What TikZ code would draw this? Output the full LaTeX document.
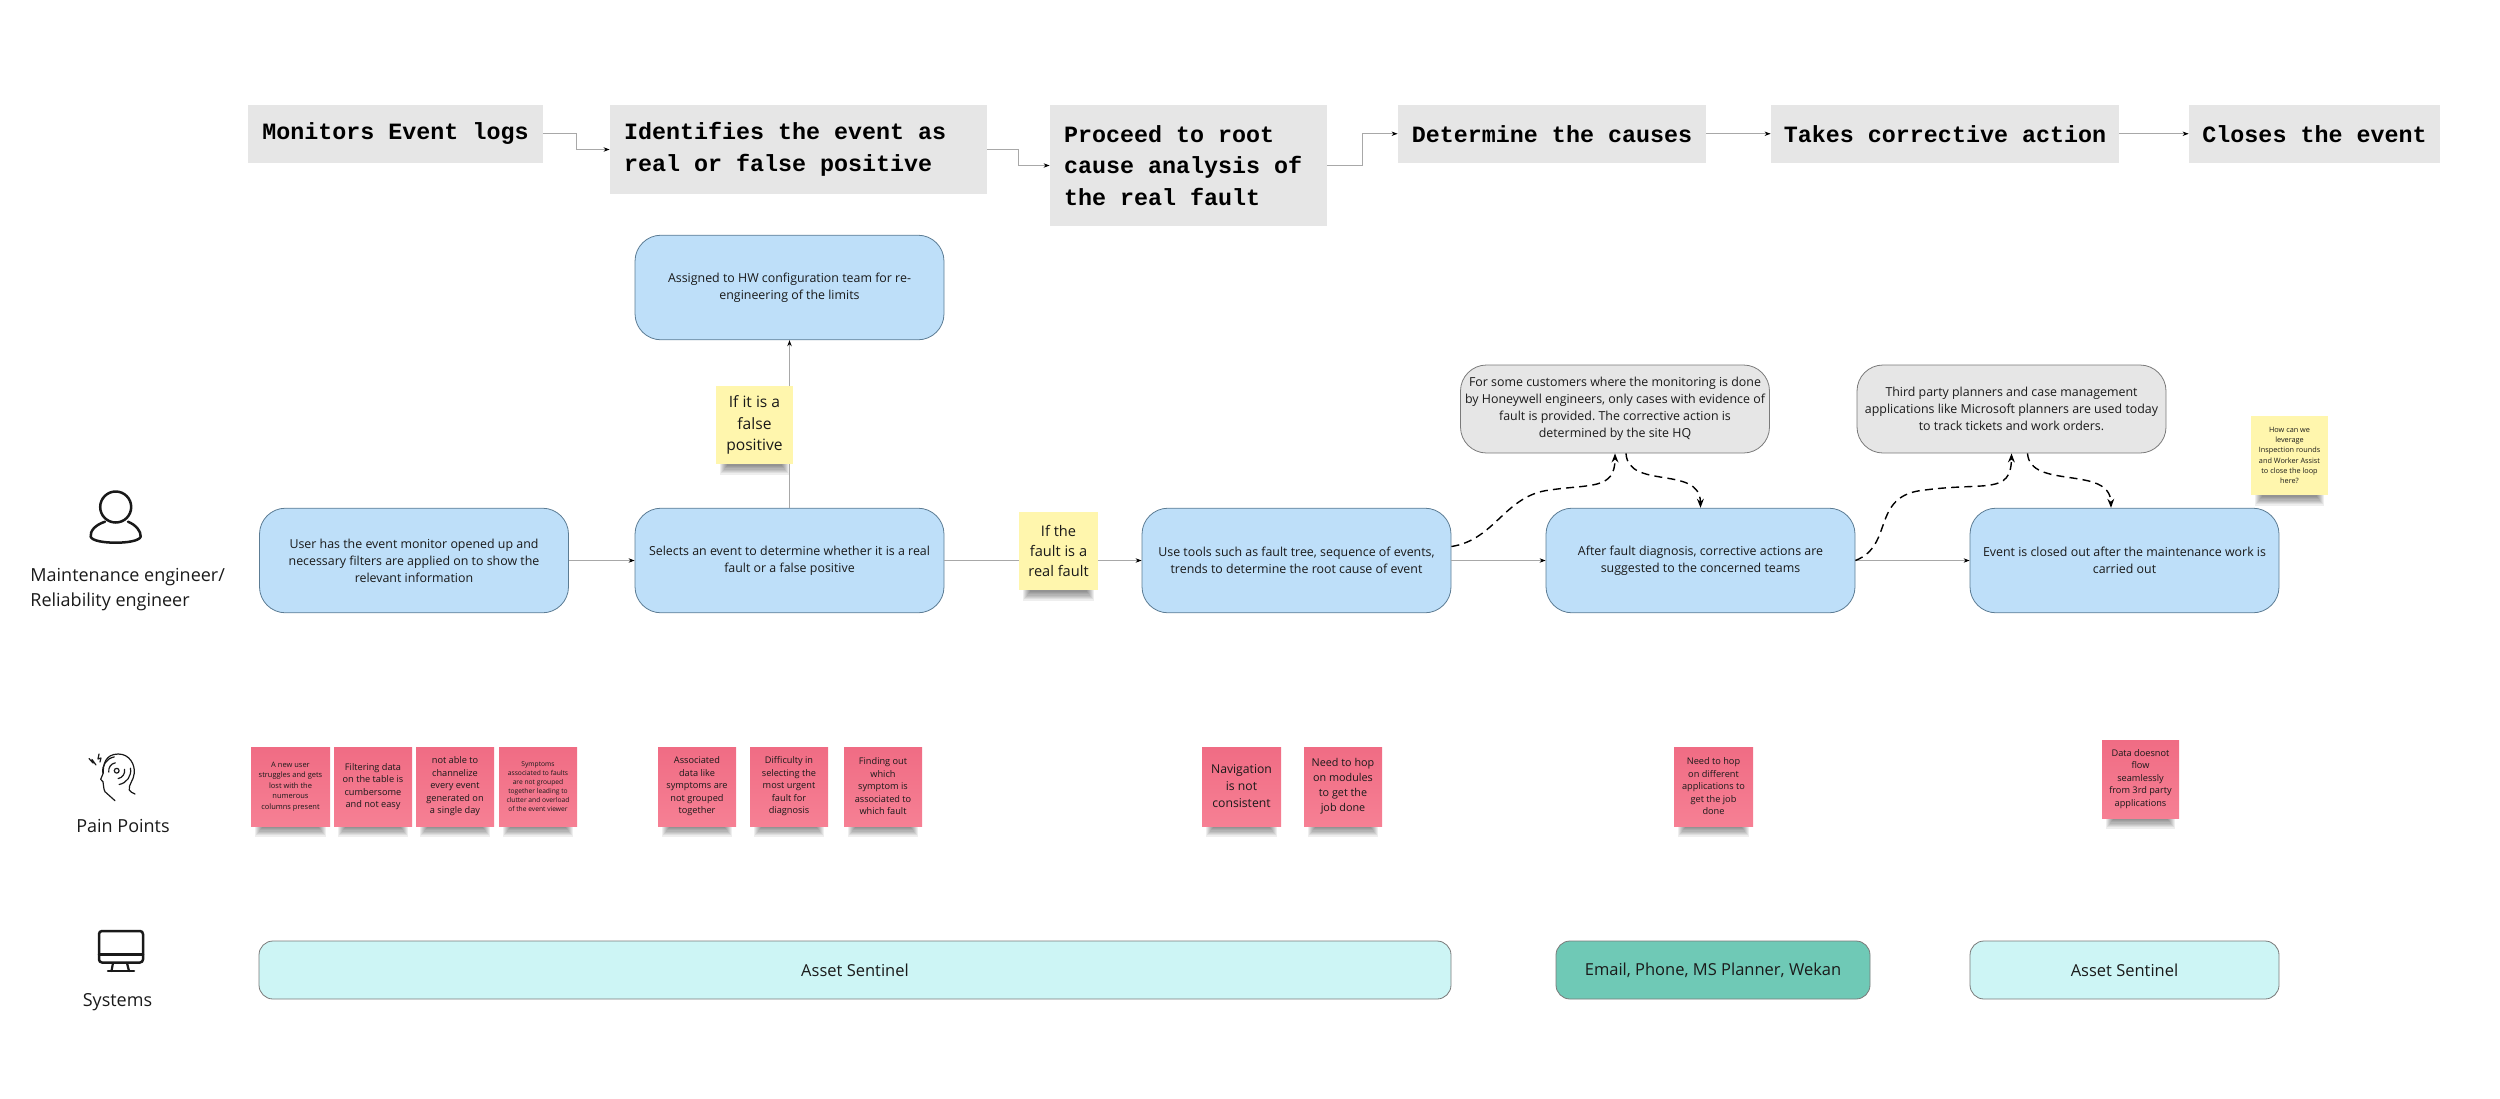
\documentclass[tikz,border=0pt]{standalone}
\usepackage{fontspec}
\setmainfont{Open Sans}
\newfontfamily\monob{Liberation Mono}[BoldFont={Liberation Mono Bold}]
\usetikzlibrary{arrows.meta,calc,positioning}
\frenchspacing
\definecolor{topgrey}{HTML}{E6E6E6}
\definecolor{blueF}{HTML}{BEDFF9}
\definecolor{blueD}{HTML}{5C7C94}
\definecolor{greyD}{HTML}{7A7A7A}
\definecolor{aquaF}{HTML}{CDF5F5}
\definecolor{tealF}{HTML}{6FC9B6}
\definecolor{inkT}{HTML}{1A1A1A}
\definecolor{pinkT}{HTML}{F06C84}
\definecolor{pinkB}{HTML}{F68094}
\definecolor{yelF}{HTML}{FFF6AD}
\definecolor{lineC}{HTML}{A8A8A8}
\newcommand{\widespace}{\spaceskip=7.002pt\relax}
\tikzset{
  topbox/.style={fill=topgrey,inner xsep=0pt,inner ysep=0pt,align=left,text=black,
    font=\monob\bfseries\fontsize{11.67}{15.75}\selectfont,execute at begin node=\widespace},
  flowbox/.style={rounded corners=13pt,draw=blueD,line width=.4pt,align=center,inner sep=0pt,
    minimum width=154.5pt,text=inkT,font=\fontsize{6.2}{8.5}\selectfont},
  bluebox/.style={flowbox,fill=blueF,minimum height=52.3pt},
  greybox/.style={flowbox,fill=topgrey,draw=greyD,minimum height=44pt},
  sysbox/.style={rounded corners=7pt,draw=greyD,line width=.4pt,inner sep=0pt,minimum height=29pt,
    text=inkT,font=\fontsize{8.25}{11}\selectfont},
  stickyP/.style={top color=pinkT,bottom color=pinkB,inner sep=0pt,align=center,text=inkT},
  stickyY/.style={fill=yelF,inner sep=0pt,align=center,text=inkT},
  flow/.style={draw=lineC,line width=.45pt,-{Stealth[length=3pt,width=2.2pt,color=black]}},
  dashlink/.style={draw=black,line width=.7pt,dash pattern=on 4pt off 2.6pt,-{Stealth[length=4.5pt,width=3.4pt]}},
  icon/.style={draw=black!90,line cap=round,line join=round},
  lab/.style={inner sep=0pt,text=inkT,font=\fontsize{9}{12.5}\selectfont},
}
% name, x1,y1,x2,y2, style, size(pt), leading(pt), text
\newcommand{\stickynote}[9]{%
  \foreach \i in {1,...,8}{
    \fill[black,opacity=.065] ({#2+3+\i},{#5-3}) rectangle ({#4-3-\i},{#5+12-\i*1.3});
  }%
  \node[#6,minimum width={(#4-#2)*0.5pt},minimum height={(#5-#3)*0.5pt},
    font=\fontsize{#7}{#8}\selectfont] (#1) at ({(#2+#4)/2},{(#3+#5)/2}) {#9};%
}
\begin{document}
\begin{tikzpicture}[x=0.5pt,y=-0.5pt]
\useasboundingbox (0,0) rectangle (2500,1098);
% top process row
\node[topbox,minimum height=28.75pt,minimum width=147.5pt] (t1) at (395.5,133.75) {Monitors Event logs};
\node[topbox,minimum height=44.5pt,text width=174.5pt,minimum width=188.5pt] (t2) at (798.5,149.5) {Identifies the event as\\real or false positive};
\node[topbox,minimum height=60.5pt,text width=124.5pt,minimum width=138.5pt] (t3) at (1188.5,165.5) {Proceed to root\\cause analysis of\\the real fault};
\node[topbox,minimum height=28.75pt,minimum width=154pt] (t4) at (1552,133.75) {Determine the causes};
\node[topbox,minimum height=28.75pt,minimum width=174pt] (t5) at (1945,133.75) {Takes corrective action};
\node[topbox,minimum height=28.75pt,minimum width=125.5pt] (t6) at (2314.5,133.75) {Closes the event};
\draw[flow] (t1.east) -| ($(t1.east)!.5!(t2.west)$) |- (t2.west);
\draw[flow] (t2.east) -| ($(t2.east)!.5!(t3.west)$) |- (t3.west);
\draw[flow] (t3.east) -| ($(t3.east)!.5!(t4.west)$) |- (t4.west);
\draw[flow] (t4) -- (t5);
\draw[flow] (t5) -- (t6);
% flow boxes
\node[bluebox] (assign) at (789.5,287.5) {Assigned to HW configuration team for re-\\engineering of the limits};
\node[bluebox] (user) at (414,560.5) {User has the event monitor opened up and\\necessary filters are applied on to show the\\relevant information};
\node[bluebox] (select) at (789.5,560.5) {Selects an event to determine whether it is a real\\fault or a false positive};
\node[bluebox] (tools) at (1296.5,560.5) {Use tools such as fault tree, sequence of events,\\trends to determine the root cause of event};
\node[bluebox] (after) at (1700.5,560.5) {After fault diagnosis, corrective actions are\\suggested to the concerned teams};
\node[bluebox] (closed) at (2124.5,560.5) {Event is closed out after the maintenance work is\\carried out};
\node[greybox] (gone) at (1615,409) {For some customers where the monitoring is done\\by Honeywell engineers, only cases with evidence of\\fault is provided. The corrective action is\\determined by the site HQ};
\node[greybox] (gtwo) at (2011.5,409) {Third party planners and case management\\applications like Microsoft planners are used today\\to track tickets and work orders.};
\draw[flow] (user) -- (select);
\draw[flow] (select) -- (tools);
\draw[flow] (select) -- (assign);
\draw[flow] (tools) -- (after);
\draw[flow] (after) -- (closed);
% dashed links
\coordinate (toolsout) at ($(tools.east)+(0,-14)$);
\coordinate (goneout) at ($(gone.south)+(11,0)$);
\coordinate (gtwoout) at ($(gtwo.south)+(16,0)$);
\coordinate (closedin) at ($(closed.north)+(-13.5,0)$);
\draw[dashlink] (toolsout) .. controls (1495,540) and (1505,495) .. (1550,490)
  .. controls (1590,484) and (1615,490) .. (gone.south);
\draw[dashlink] (goneout) .. controls (1628,490) and (1700,465) .. (after.north);
\draw[dashlink] (after.east) .. controls (1895,545) and (1870,495) .. (1925,490)
  .. controls (1985,482) and (2011,495) .. (gtwo.south);
\draw[dashlink] (gtwoout) .. controls (2030,490) and (2110,465) .. (closedin);
% yellow notes
\stickynote{yone}{716}{386}{793}{464}{stickyY}{7.8}{10.7}{If it is a\\false\\positive}
\stickynote{ytwo}{1019}{512}{1098}{590}{stickyY}{7.3}{10.2}{If the\\fault is a\\real fault}
\stickynote{ythree}{2251}{416}{2328}{495}{stickyY}{3.65}{5.15}{How can we\\leverage\\Inspection rounds\\and Worker Assist\\to close the loop\\here?}
% pink notes
\stickynote{p1}{251}{747}{330}{826}{stickyP}{3.75}{5.2}{A new user\\struggles and gets\\lost with the\\numerous\\columns present}
\stickynote{p2}{334}{747}{412}{826}{stickyP}{4.6}{6.25}{Filtering data\\on the table is\\cumbersome\\and not easy}
\stickynote{p3}{416}{747}{494}{826}{stickyP}{4.6}{6.25}{not able to\\channelize\\every event\\generated on\\a single day}
\stickynote{p4}{499}{747}{577}{826}{stickyP}{3.35}{4.55}{Symptoms\\associated to faults\\are not grouped\\together leading to\\clutter and overload\\of the event viewer}
\stickynote{p5}{658}{747}{736}{826}{stickyP}{4.6}{6.25}{Associated\\data like\\symptoms are\\not grouped\\together}
\stickynote{p6}{750}{747}{828}{826}{stickyP}{4.6}{6.25}{Difficulty in\\selecting the\\most urgent\\fault for\\diagnosis}
\stickynote{p7}{844}{747}{922}{826}{stickyP}{4.6}{6.25}{Finding out\\which\\symptom is\\associated to\\which fault}
\stickynote{p8}{1202}{747}{1281}{826}{stickyP}{6.1}{8.5}{Navigation\\is not\\consistent}
\stickynote{p9}{1304}{747}{1382}{826}{stickyP}{5.4}{7.5}{Need to hop\\on modules\\to get the\\job done}
\stickynote{p10}{1674}{747}{1753}{826}{stickyP}{4.6}{6.25}{Need to hop\\on different\\applications to\\get the job\\done}
\stickynote{p11}{2102}{740}{2179}{818}{stickyP}{4.6}{6.25}{Data doesnot\\flow\\seamlessly\\from 3rd party\\applications}
% systems
\node[sysbox,fill=aquaF,minimum width=596pt] (s1) at (855,970) {Asset Sentinel};
\node[sysbox,fill=tealF,minimum width=157pt] (s2) at (1713,970) {Email, Phone, MS Planner, Wekan};
\node[sysbox,fill=aquaF,minimum width=154.5pt] (s3) at (2124.5,970) {Asset Sentinel};
% left labels
\node[lab,align=left,anchor=west] (lmain) at (30,590) {Maintenance engineer/\\Reliability engineer};
\node[lab] (lpain) at (123,826) {Pain Points};
\node[lab] (lsys) at (117.5,1002) {Systems};
% person icon
\draw[icon,line width=1.25pt] (115.7,507) circle[radius=7.75pt];
\draw[icon,line width=1.25pt] (105,521.7) .. controls (95,525) and (90,531) .. (90.7,536.7)
  .. controls (92,541) and (105,542.7) .. (115.7,542.7)
  .. controls (127,542.7) and (139,541) .. (140.7,536.7)
  .. controls (141,531) and (136,525) .. (128,521.7);
% pain icon
\draw[icon,line width=.6pt] (115,800.7) -- (105,791.7) .. controls (103,788) and (104,785) .. (103,781.7)
  -- (100.7,779.3) -- (103.3,773) .. controls (103,765) and (105,754) .. (118.3,754)
  .. controls (130,754) and (135,765) .. (134.3,773)
  .. controls (134,780) and (128,785) .. (129.3,790) .. controls (130,792) and (133,793) .. (135,794);
\draw[icon,line width=.6pt] (89,758.5) -- (93,763) -- (92,759.5) -- (96,765);
\draw[icon,line width=.6pt] (99,754) -- (98,759) -- (101,758) -- (100,762);
\draw[icon,line width=.6pt] (116.7,770.7) circle[radius=1.2pt];
\foreach \r in {4,7}{
  \draw[icon,line width=.6pt] (116.7,770.7) ++(100:\r pt) arc[start angle=100,end angle=190,radius=\r pt];
  \draw[icon,line width=.6pt] (116.7,770.7) ++(-80:\r pt) arc[start angle=-80,end angle=10,radius=\r pt];
}
% monitor icon
\draw[icon,line width=1.25pt,rounded corners=1.5pt] (99,931) rectangle (143,962.5);
\draw[icon,line width=1.25pt] (99,954.5) -- (143,954.5);
\draw[icon,line width=1.1pt] (113,963) -- (111.5,971);
\draw[icon,line width=1.1pt] (127,963) -- (129,971);
\draw[icon,line width=1.25pt] (108,971) -- (134,971);
\end{tikzpicture}
\end{document}
